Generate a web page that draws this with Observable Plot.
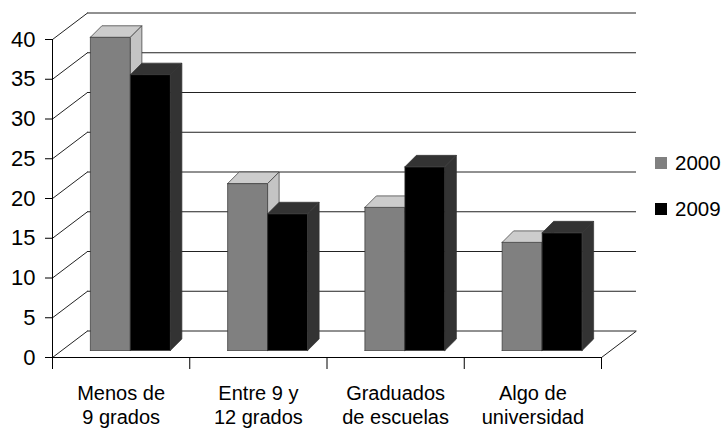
<!DOCTYPE html>
<html>
<head>
<meta charset="utf-8">
<script src="https://cdn.jsdelivr.net/npm/d3@7"></script>
<script src="https://cdn.jsdelivr.net/npm/@observablehq/plot@0.6"></script>
<style>
  html, body { margin: 0; padding: 0; background: #fff; }
  #chart { position: relative; width: 724px; height: 429px; font-family: "Liberation Sans", Arial, sans-serif; }
  #legend { position: absolute; left: 655px; top: 151px; font-size: 20.5px; color: #000; }
  #legend .row { display: flex; align-items: center; height: 24px; margin-bottom: 22px; }
  #legend .sw { width: 12px; height: 12px; margin-right: 8px; }
</style>
</head>
<body>
<div id="chart"><div id="legend"></div></div>
<script>
// Education level (share, %) by year
const categories = ["Menos de\n9 grados", "Entre 9 y\n12 grados", "Graduados\nde escuelas", "Algo de\nuniversidad"];
const seriesNames = ["2000", "2009"];
const values2000 = [39.4, 21.0, 18.0, 13.6];
const values2009 = [34.7, 17.2, 23.1, 14.8];
const yTicks = [0, 5, 10, 15, 20, 25, 30, 35, 40];

// Look of the pseudo-3D columns
const faceColors = {
  "2000": {front: "#808080", top: "#cccccc", side: "#c4c4c4"},
  "2009": {front: "#000000", top: "#333333", side: "#333333"}
};

const W = 724, H = 429;
const M = {top: 39, right: 123, bottom: 72, left: 52};
const yMax = 40;
const kx = (W - M.left - M.right) / categories.length; // px per category
const ky = (H - M.top - M.bottom) / yMax;              // px per value unit
const px2x = p => p / kx;
const px2y = p => p / ky;

// depth of the chart walls, position of the column plane, and column depth (pixels)
const wallDx = px2x(35), wallDy = px2y(26.5);
const planeDx = px2x(9.25), planeDy = px2y(7);
const colDx = px2x(11.5), colDy = px2y(11.5);
const colW = px2x(40);
const inset = (1 - 2 * colW) / 2;

function faces(series, vals, s) {
  const out = {front: [], top: [], side: []};
  vals.forEach((v, i) => {
    const x0 = i + inset + s * colW + planeDx, x1 = x0 + colW;
    const y0 = planeDy, y1 = planeDy + v;
    const id = series + "-" + i;
    const poly = (name, pts) => {
      pts.concat([pts[0]]).forEach(([x, y]) => out[name].push({id, x, y}));
    };
    poly("front", [[x0, y0], [x1, y0], [x1, y1], [x0, y1]]);
    poly("top", [[x0, y1], [x1, y1], [x1 + colDx, y1 + colDy], [x0 + colDx, y1 + colDy]]);
    poly("side", [[x1, y0], [x1 + colDx, y0 + colDy], [x1 + colDx, y1 + colDy], [x1, y1]]);
  });
  return out;
}

const columnMarks = [];
[values2000, values2009].forEach((vals, s) => {
  const name = seriesNames[s];
  const f = faces(name, vals, s);
  ["front", "top", "side"].forEach(k => {
    columnMarks.push(Plot.line(f[k], {
      x: "x", y: "y", z: "id",
      fill: faceColors[name][k], stroke: "#333", strokeWidth: 0.7, strokeLinejoin: "round"
    }));
  });
});

const boundaries = d3.range(categories.length + 1);
const gridColor = "#222";

const chart = Plot.plot({
  width: W,
  height: H,
  marginTop: M.top, marginRight: M.right, marginBottom: M.bottom, marginLeft: M.left,
  style: {fontFamily: "Liberation Sans, Arial, sans-serif", fontSize: "20px", color: "#000", background: "#fff"},
  x: {type: "linear", domain: [0, categories.length], label: null},
  y: {type: "linear", domain: [0, yMax], label: null},
  marks: [
    // back wall gridlines
    Plot.ruleY(yTicks, {y: d => d + wallDy, x1: wallDx, x2: categories.length + wallDx, stroke: gridColor, strokeWidth: 1}),
    // side wall gridlines
    Plot.link(yTicks, {x1: 0, y1: d => d, x2: wallDx, y2: d => d + wallDy, stroke: gridColor, strokeWidth: 1}),
    // floor right edge
    Plot.link([categories.length], {x1: d => d, y1: 0, x2: d => d + wallDx, y2: wallDy, stroke: gridColor, strokeWidth: 1}),
    // floor front edge and value axis line
    Plot.ruleY([0], {stroke: "#000", strokeWidth: 1}),
    Plot.ruleX([0], {stroke: "#000", strokeWidth: 1}),
    Plot.axisY(yTicks, {tickSize: 7, tickFormat: () => ""}),
    Plot.text(yTicks, {
      x: 0, y: d => d, text: d => String(d),
      textAnchor: "end", dx: -17, fontSize: 22, fill: "#000"
    }),
    Plot.axisX(boundaries, {tickSize: 12, tickFormat: () => ""}),
    Plot.text(categories, {
      x: (d, i) => i + 0.5, y: 0, text: d => d,
      lineAnchor: "top", dy: 25, fontSize: 20, lineHeight: 1.2, fill: "#000"
    }),
    ...columnMarks
  ]
});

const root = document.getElementById("chart");
root.insertBefore(chart, root.firstChild);

// legend
const legend = d3.select("#legend");
seriesNames.forEach(name => {
  const row = legend.append("div").attr("class", "row");
  row.append("div").attr("class", "sw").style("background", faceColors[name].front);
  row.append("span").text(name);
});
</script>
</body>
</html>
